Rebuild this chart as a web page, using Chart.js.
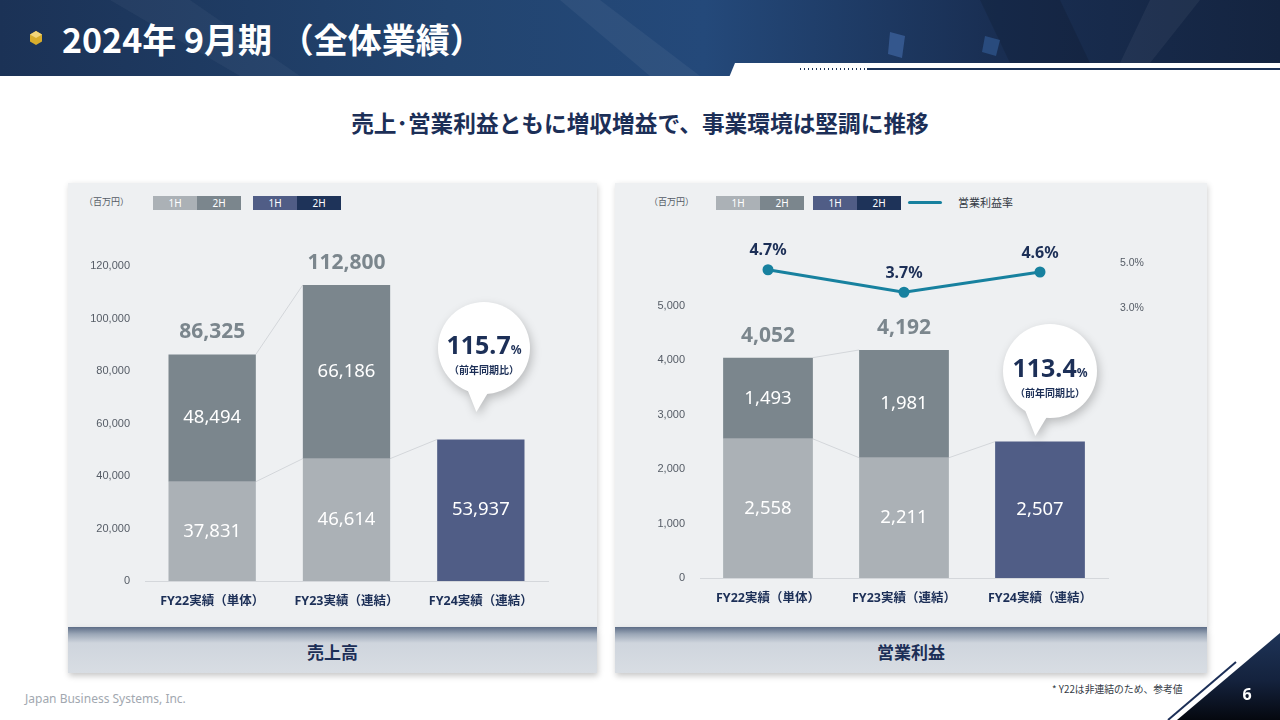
<!DOCTYPE html>
<html lang="ja">
<head>
<meta charset="UTF-8">
<title>2024年 9月期 （全体業績）</title>
<script src="https://cdn.jsdelivr.net/npm/chart.js@4.4.1/dist/chart.umd.min.js"></script>
<style>
  body {
    margin: 0;
    width: 1280px;
    height: 720px;
    overflow: hidden;
    background: #ffffff;
    position: relative;
    font-family: "Noto Sans", "Noto Sans CJK JP", sans-serif;
  }
  .abs { position: absolute; }
  .title {
    left: 62px; top: 16px;
    color: #ffffff;
    font-family: "Noto Sans CJK JP", sans-serif;
    font-weight: 700;
    font-size: 34px;
    line-height: 46px;
    white-space: nowrap;
  }
  .subtitle {
    left: 0; top: 106px; width: 1280px;
    text-align: center;
    color: #1c2f57;
    font-family: "Noto Sans CJK JP", sans-serif;
    font-weight: 700;
    font-size: 22.7px;
    line-height: 34px;
  }
  .panel {
    background: #eef0f2;
    box-shadow: 1px 2px 6px rgba(0, 0, 0, 0.18);
  }
  .panel-foot {
    background: linear-gradient(to bottom, #5d6d87 0px, #9aa6b6 7px, #cfd5dd 16px, #d8dde3 100%);
    box-shadow: 1px 3px 6px rgba(0, 0, 0, 0.22);
    color: #1c2f57;
    font-family: "Noto Sans CJK JP", sans-serif;
    font-weight: 700;
    font-size: 17px;
    text-align: center;
    line-height: 50px;
    height: 46px;
  }
  .unit { font-size: 9px; color: #555c66; font-family: "Noto Sans CJK JP", sans-serif; line-height: 14px; }
  .key {
    width: 44px; height: 14px;
    color: #ffffff;
    font-size: 10px;
    line-height: 14px;
    text-align: center;
  }
  .bubble {
    filter: drop-shadow(2px 4px 5px rgba(0, 0, 0, 0.22));
  }
  .bubble .circle {
    position: absolute; left: 0; top: 0;
    border-radius: 50%;
    background: #ffffff;
    text-align: center;
    color: #1c2f57;
    font-weight: 700;
  }
  .bubble .tail {
    position: absolute;
    width: 26px; height: 26px;
    background: #ffffff;
    clip-path: polygon(0 0, 100% 0, 40% 100%);
  }
  .rate { font-size: 25px; line-height: 26px; display: block; }
  .rate small { font-size: 12px; }
  .yoy { font-size: 10px; font-family: "Noto Sans CJK JP", sans-serif; line-height: 13px; display: block; }
  canvas { position: absolute; }
</style>
</head>
<body>

<!-- ヘッダー -->
<svg class="abs" style="left:0;top:0" width="1280" height="80">
  <defs>
    <linearGradient id="hdr" x1="0" y1="0" x2="1" y2="0">
      <stop offset="0" stop-color="#1b3256"/>
      <stop offset="0.35" stop-color="#22446f"/>
      <stop offset="0.55" stop-color="#24497a"/>
      <stop offset="0.78" stop-color="#192e52"/>
      <stop offset="1" stop-color="#142440"/>
    </linearGradient>
  </defs>
  <rect x="0" y="0" width="1280" height="76" fill="url(#hdr)"/>
  <polygon points="110,0 190,0 300,76 240,76" fill="#ffffff" opacity="0.04"/>
  <polygon points="560,0 600,0 700,76 650,76" fill="#ffffff" opacity="0.05"/>
  <polygon points="980,0 1060,0 1090,63 1010,63" fill="#000000" opacity="0.12"/>
  <polygon points="1150,0 1200,0 1150,63 1120,63" fill="#ffffff" opacity="0.05"/>
  <polygon points="890,32 905,36 902,58 888,54" fill="#3b5f99" opacity="0.8"/>
  <polygon points="985,36 1000,40 996,56 982,52" fill="#2d5288" opacity="0.8"/>
  <polygon points="735,63 1280,63 1280,80 728,80" fill="#ffffff"/>
  <line x1="867" y1="69" x2="1280" y2="69" stroke="#1c3358" stroke-width="2"/>
  <line x1="800" y1="69" x2="866" y2="69" stroke="#1c3358" stroke-width="2" stroke-dasharray="1,3"/>
</svg>
<svg class="abs" style="left:28px;top:30px" width="16" height="16">
  <polygon points="8,1 14,4.5 14,11.5 8,15 2,11.5 2,4.5" fill="#d8ad2c"/>
  <polygon points="8,1 14,4.5 8,8 2,4.5" fill="#f1d57a"/>
</svg>
<div class="abs title">2024年 9月期 （全体業績）</div>

<div class="abs subtitle">売上･営業利益ともに増収増益で、事業環境は堅調に推移</div>

<!-- 左パネル：売上高 -->
<div class="abs panel" style="left:68px;top:183px;width:529px;height:444px;"></div>
<div class="abs panel-foot" style="left:68px;top:627px;width:529px;">売上高</div>
<div class="abs unit" style="left:84px;top:195px;">（百万円）</div>
<div class="abs key" style="left:153px;top:196px;background:#abb1b6;">1H</div>
<div class="abs key" style="left:197px;top:196px;background:#7b868d;">2H</div>
<div class="abs key" style="left:253px;top:196px;background:#505d86;">1H</div>
<div class="abs key" style="left:297px;top:196px;background:#1e3359;">2H</div>
<canvas id="salesChart" width="529" height="444" style="left:68px;top:183px;width:529px;height:444px;"></canvas>

<!-- 右パネル：営業利益 -->
<div class="abs panel" style="left:615px;top:183px;width:592px;height:444px;"></div>
<div class="abs panel-foot" style="left:615px;top:627px;width:592px;">営業利益</div>
<div class="abs unit" style="left:649px;top:195px;">（百万円）</div>
<div class="abs key" style="left:716px;top:196px;background:#abb1b6;">1H</div>
<div class="abs key" style="left:760px;top:196px;background:#7b868d;">2H</div>
<div class="abs key" style="left:813px;top:196px;background:#505d86;">1H</div>
<div class="abs key" style="left:857px;top:196px;background:#1e3359;">2H</div>
<div class="abs" style="left:908px;top:201px;width:34px;height:3px;background:#17819f;border-radius:2px;"></div>
<div class="abs" style="left:958px;top:194px;font-size:11px;line-height:16px;color:#333a44;font-family:'Noto Sans CJK JP',sans-serif;">営業利益率</div>
<canvas id="profitChart" width="592" height="444" style="left:615px;top:183px;width:592px;height:444px;"></canvas>

<!-- 吹き出し -->
<div class="abs bubble" style="left:438px;top:302px;width:92px;height:110px;">
  <div class="circle" style="width:92px;height:92px;">
    <span class="rate" style="padding-top:29px;">115.7<small>%</small></span>
    <span class="yoy">（前年同期比）</span>
  </div>
  <div class="tail" style="left:28px;top:84px;"></div>
</div>
<div class="abs bubble" style="left:1003px;top:324px;width:94px;height:112px;">
  <div class="circle" style="width:94px;height:94px;">
    <span class="rate" style="padding-top:30px;">113.4<small>%</small></span>
    <span class="yoy">（前年同期比）</span>
  </div>
  <div class="tail" style="left:22px;top:86px;"></div>
</div>

<!-- フッター -->
<div class="abs" style="left:25px;top:690px;font-size:12px;color:#a2a8b0;line-height:18px;">Japan Business Systems, Inc.</div>
<div class="abs" style="left:1052px;top:682px;font-size:9.8px;color:#333a44;line-height:14px;font-family:'Noto Sans CJK JP',sans-serif;">* Y22は非連結のため、参考値</div>
<svg class="abs" style="left:1160px;top:620px" width="120" height="100">
  <defs>
    <linearGradient id="corner" x1="0" y1="0" x2="0" y2="1">
      <stop offset="0" stop-color="#1e3458"/>
      <stop offset="0.55" stop-color="#14223d"/>
      <stop offset="1" stop-color="#05080f"/>
    </linearGradient>
  </defs>
  <polygon points="120,13 120,100 17,100" fill="url(#corner)"/>
  <line x1="76" y1="42" x2="8" y2="100" stroke="#1c2f57" stroke-width="2"/>
</svg>
<div class="abs" style="left:1238px;top:682px;width:18px;text-align:center;color:#ffffff;font-weight:700;font-size:16px;line-height:24px;">6</div>

<script>
// 区分
const categories = ["FY22実績（単体）", "FY23実績（連結）", "FY24実績（連結）"];

// 売上高（百万円）
const salesFirstHalf = [37831, 46614, 53937];
const salesSecondHalf = [48494, 66186, null];
const salesTotal = [86325, 112800, null];
const salesTicks = [0, 20000, 40000, 60000, 80000, 100000, 120000];

// 営業利益（百万円）
const profitFirstHalf = [2558, 2211, 2507];
const profitSecondHalf = [1493, 1981, null];
const profitTotal = [4052, 4192, null];
const profitTicks = [0, 1000, 2000, 3000, 4000, 5000];

// 営業利益率（%）
const profitMargin = [4.7, 3.7, 4.6];
const marginTicks = [3.0, 5.0];

var navy = "#1c2f57";
var firstHalfColors = ["#abb1b6", "#abb1b6", "#505d86"];
var secondHalfColor = "#7b868d";

function fmt(v) {
  return Number(v).toLocaleString("en-US");
}

// ラベルと前年比較の線
var barLabels = {
  id: "barLabels",
  beforeDatasetsDraw: function (chart, args, opts) {
    var ctx = chart.ctx;
    var first = chart.getDatasetMeta(0).data;
    var second = chart.getDatasetMeta(1).data;
    ctx.save();
    ctx.strokeStyle = "#d3d6da";
    ctx.lineWidth = 1;
    opts.links.forEach(function (link) {
      var a = link.level === "total" ? second[link.from] : first[link.from];
      var b = link.level === "total" ? second[link.to] : first[link.to];
      ctx.beginPath();
      ctx.moveTo(a.x + a.width / 2, a.y);
      ctx.lineTo(b.x - b.width / 2, b.y);
      ctx.stroke();
    });
    ctx.restore();
  },
  afterDatasetsDraw: function (chart, args, opts) {
    var ctx = chart.ctx;
    ctx.save();
    ctx.textAlign = "center";
    ctx.textBaseline = "middle";

    // 棒の中の数値
    ctx.fillStyle = "#ffffff";
    ctx.font = "18.5px 'Noto Sans', sans-serif";
    [0, 1].forEach(function (di) {
      var values = chart.data.datasets[di].data;
      chart.getDatasetMeta(di).data.forEach(function (bar, i) {
        if (values[i] == null) return;
        ctx.fillText(fmt(values[i]), bar.x, (bar.y + bar.base) / 2);
      });
    });

    // 合計
    ctx.fillStyle = "#7b868d";
    ctx.font = "bold 21px 'Noto Sans', sans-serif";
    chart.getDatasetMeta(1).data.forEach(function (bar, i) {
      if (opts.totals[i] == null) return;
      ctx.fillText(fmt(opts.totals[i]), bar.x, bar.y - 22);
    });

    // 利益率
    if (chart.data.datasets.length > 2) {
      var rates = chart.data.datasets[2].data;
      ctx.fillStyle = navy;
      ctx.font = "bold 16px 'Noto Sans', sans-serif";
      chart.getDatasetMeta(2).data.forEach(function (pt, i) {
        ctx.fillText(rates[i].toFixed(1) + "%", pt.x, pt.y - 19);
      });
    }
    ctx.restore();
  },
};

function xScale(height) {
  return {
    stacked: true,
    grid: { display: false, drawTicks: false },
    border: { display: true, color: "#d4d7db", width: 1 },
    ticks: {
      color: navy,
      padding: 13,
      font: { family: "'Noto Sans', 'Noto Sans CJK JP', sans-serif", size: 12.5, weight: "bold" },
    },
    afterFit: function (scale) {
      scale.height = height;
    },
  };
}

document.addEventListener("DOMContentLoaded", function () {
  // 売上高
  new Chart(document.getElementById("salesChart").getContext("2d"), {
    type: "bar",
    data: {
      labels: categories,
      datasets: [
        { label: "1H", data: salesFirstHalf, backgroundColor: firstHalfColors },
        { label: "2H", data: salesSecondHalf, backgroundColor: secondHalfColor },
      ],
    },
    options: {
      responsive: false,
      animation: false,
      layout: { padding: { top: 83, right: 49, left: 0, bottom: 0 } },
      datasets: { bar: { categoryPercentage: 1, barPercentage: 0.65 } },
      plugins: {
        legend: { display: false },
        tooltip: { enabled: false },
        barLabels: {
          totals: salesTotal,
          links: [
            { from: 0, to: 1, level: "total" },
            { from: 0, to: 1, level: "first" },
            { from: 1, to: 2, level: "first" },
          ],
        },
      },
      scales: {
        x: xScale(46),
        y: {
          stacked: true,
          min: salesTicks[0],
          max: salesTicks[salesTicks.length - 1],
          grid: { display: false, drawTicks: false },
          border: { display: false },
          afterBuildTicks: function (scale) {
            scale.ticks = salesTicks.map(function (v) { return { value: v }; });
          },
          ticks: {
            color: "#555c66",
            padding: 15,
            font: { size: 11 },
            callback: function (v) { return fmt(v); },
          },
          afterFit: function (scale) {
            scale.width = 77;
          },
        },
      },
    },
    plugins: [barLabels],
  });

  // 営業利益と利益率
  new Chart(document.getElementById("profitChart").getContext("2d"), {
    type: "bar",
    data: {
      labels: categories,
      datasets: [
        { label: "1H", data: profitFirstHalf, backgroundColor: firstHalfColors, yAxisID: "y" },
        { label: "2H", data: profitSecondHalf, backgroundColor: secondHalfColor, yAxisID: "y" },
        {
          type: "line",
          label: "営業利益率",
          data: profitMargin,
          yAxisID: "y2",
          borderColor: "#17819f",
          backgroundColor: "#17819f",
          borderWidth: 3,
          pointRadius: 4,
          pointBackgroundColor: "#17819f",
          tension: 0,
        },
      ],
    },
    options: {
      responsive: false,
      animation: false,
      layout: { padding: { top: 53, right: 0, left: 0, bottom: 0 } },
      datasets: { bar: { categoryPercentage: 1, barPercentage: 0.66 } },
      plugins: {
        legend: { display: false },
        tooltip: { enabled: false },
        barLabels: {
          totals: profitTotal,
          links: [
            { from: 0, to: 1, level: "total" },
            { from: 0, to: 1, level: "first" },
            { from: 1, to: 2, level: "first" },
          ],
        },
      },
      scales: {
        x: xScale(49),
        y: {
          stacked: true,
          min: 0,
          max: 6287, // 上の余白に利益率の線
          grid: { display: false, drawTicks: false },
          border: { display: false },
          afterBuildTicks: function (scale) {
            scale.ticks = profitTicks.map(function (v) { return { value: v }; });
          },
          ticks: {
            color: "#555c66",
            padding: 15,
            font: { size: 11 },
            callback: function (v) { return fmt(v); },
          },
          afterFit: function (scale) {
            scale.width = 85;
          },
        },
        y2: {
          position: "right",
          min: -9,
          max: 6.2,
          grid: { display: false, drawTicks: false },
          border: { display: false },
          afterBuildTicks: function (scale) {
            scale.ticks = marginTicks.map(function (v) { return { value: v }; });
          },
          ticks: {
            color: "#555c66",
            padding: 12,
            font: { size: 10.5 },
            callback: function (v) { return Number(v).toFixed(1) + "%"; },
          },
          afterFit: function (scale) {
            scale.width = 99;
          },
        },
      },
    },
    plugins: [barLabels],
  });
});
</script>
</body>
</html>
